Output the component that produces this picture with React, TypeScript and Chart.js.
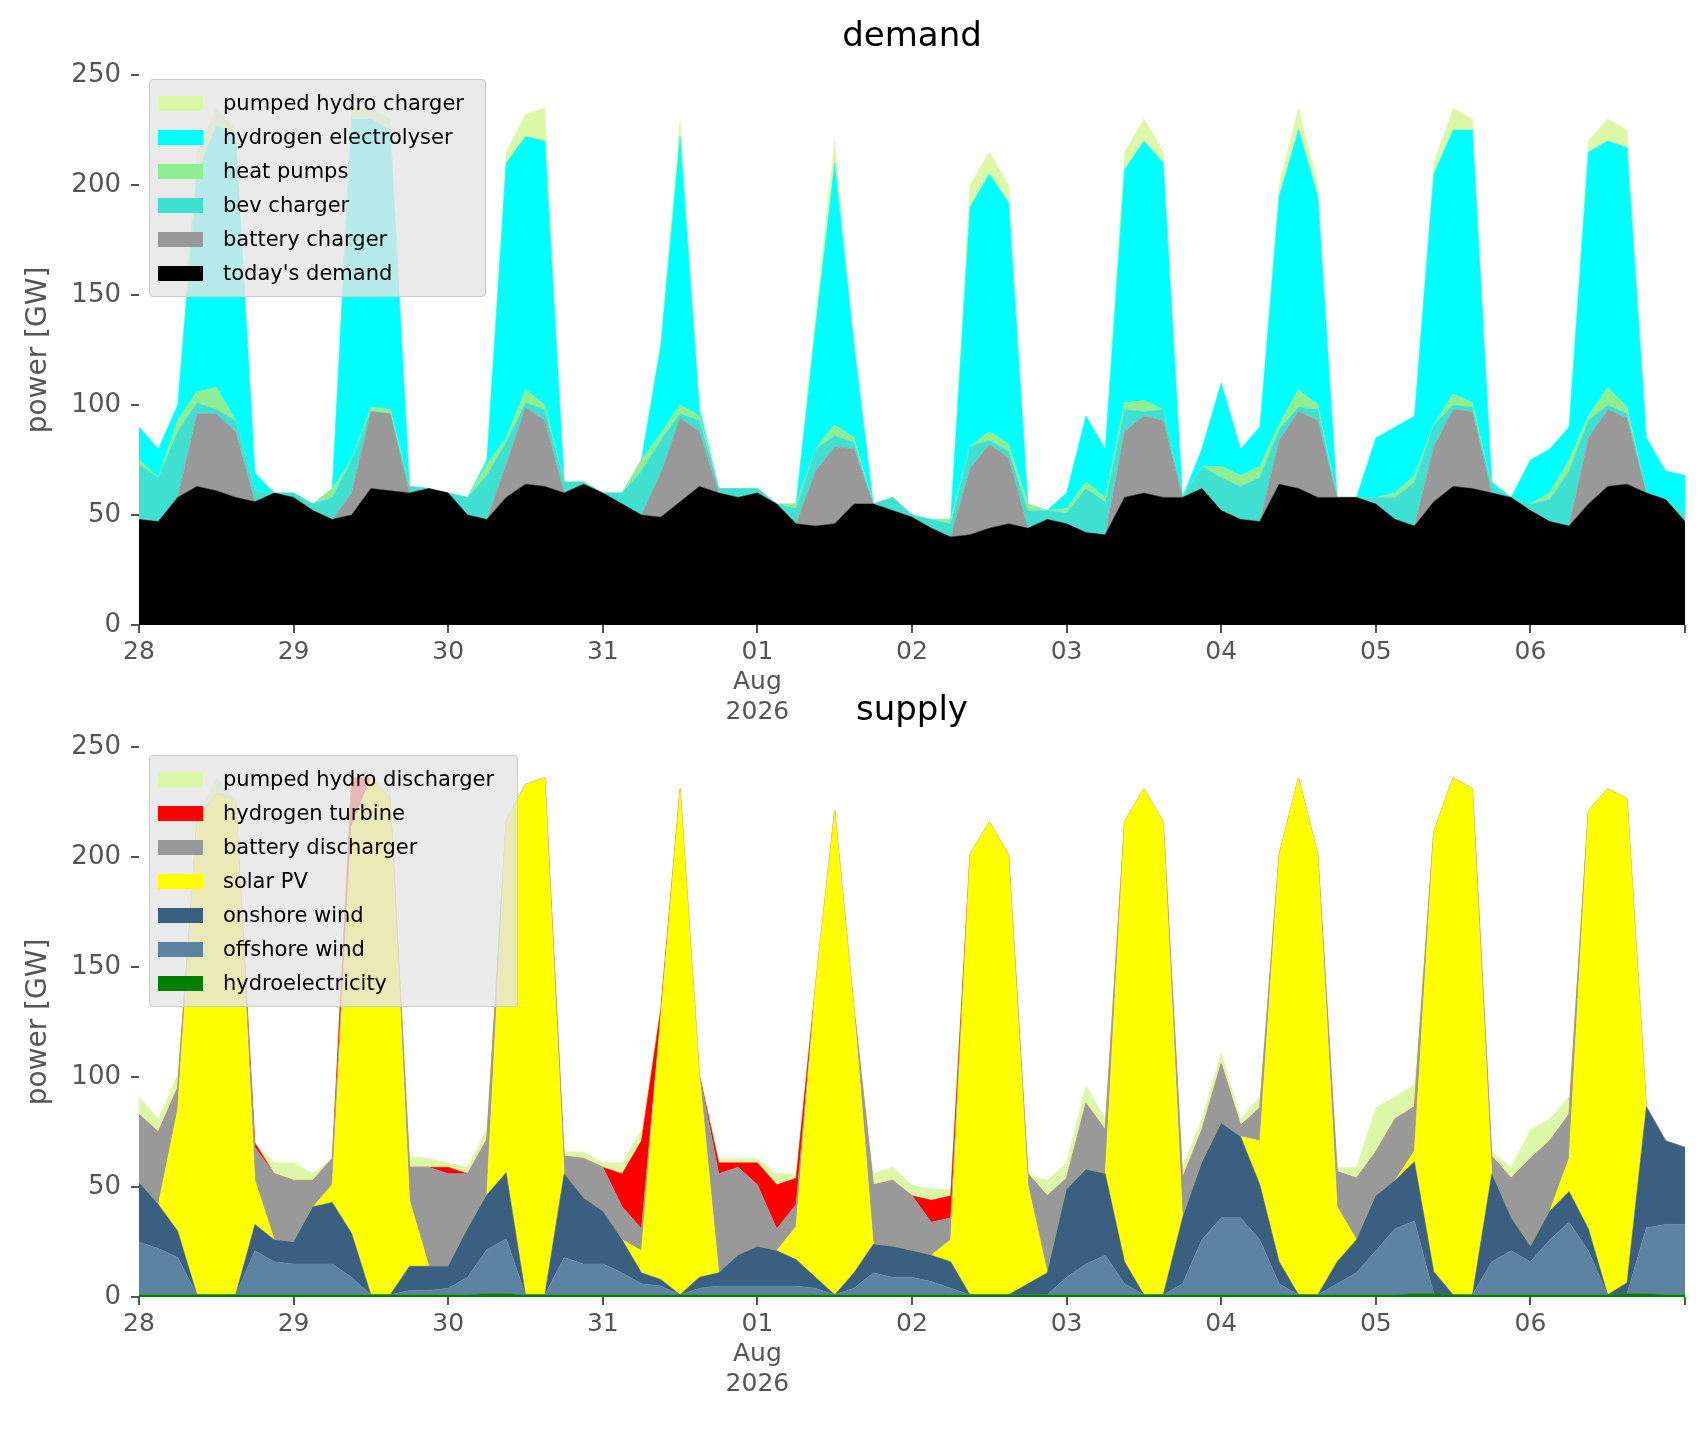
import React, { useEffect, useRef } from "react";
import { Chart, registerables } from "chart.js";
Chart.register(...registerables);

const STEP_HOURS = 3;
const DAY_LABELS = ["28", "29", "30", "31", "01", "02", "03", "04", "05", "06"];
const Y_TICKS = [0, 50, 100, 150, 200, 250];

// demand (GW), 3-hourly
const todaysDemand = [48,47,58,63,61,58,56,60, 58,52,48,50,62,61,60,62, 60,50,48,58,64,63,60,64, 60,55,50,49,56,63,60,58, 60,55,46,45,46,55,55,52, 49,44,40,41,44,46,44,48, 46,42,41,58,60,58,58,62, 52,48,47,64,62,58,58,58, 55,48,45,56,63,62,60,58, 52,47,45,55,63,64,60,57, 47];
const batteryCharger = [0,0,0,33,35,30,0,0, 0,0,0,10,35,35,0,0, 0,0,0,15,35,30,0,0, 0,0,0,20,38,25,0,0, 0,0,0,25,35,25,0,0, 0,0,0,30,38,30,0,0, 0,0,0,30,35,35,0,0, 0,0,0,20,35,35,0,0, 0,0,0,25,35,35,0,0, 0,0,0,30,35,30,0,0, 0];
const bevCharger = [25,20,30,5,2,5,5,0, 2,3,10,15,0,0,3,0, 0,8,20,10,2,5,5,1, 0,5,20,15,2,5,2,4, 2,0,7,10,5,3,0,6, 1,4,6,10,2,3,8,4, 5,20,15,10,2,5,0,10, 15,15,20,5,2,5,0,0, 3,10,20,10,2,2,3,0, 3,10,25,8,2,2,0,0, 3];
const heatPumps = [2,0,5,5,10,0,0,0, 0,0,4,0,2,2,0,0, 0,0,5,2,6,2,0,0, 0,0,5,3,4,2,0,0, 0,0,2,0,5,2,0,0, 0,0,2,0,4,3,3,0, 2,3,2,3,5,0,0,0, 5,5,5,2,8,2,0,0, 0,2,3,0,5,2,0,0, 0,3,5,2,8,3,0,0, 0];
const electrolyser = [15,13,7,99,119,130,8,0, 0,0,0,155,131,127,0,0, 0,0,2,125,115,120,0,0, 0,0,0,40,122,3,0,0, 0,0,0,55,119,42,0,0, 0,0,0,109,117,110,0,0, 7,30,22,106,118,112,0,8, 38,12,18,104,118,95,0,0, 27,30,27,114,120,124,2,0, 20,20,15,120,112,118,25,13, 18];
const pumpedCharger = [0,0,0,10,8,2,0,0, 0,0,0,5,5,5,0,0, 0,0,0,5,10,15,0,0, 0,0,0,3,8,2,0,0, 0,0,0,5,10,3,0,0, 0,0,0,10,10,8,0,0, 0,0,0,8,10,5,0,0, 0,0,0,5,10,5,0,0, 0,0,0,5,10,5,0,0, 0,0,0,5,10,8,0,0, 0];

// supply (GW), 3-hourly
const hydro = [1,1,1,1,1,1,1,1, 1,1,1,1,1,1,1,1, 1,1,1.5,1.5,1,1,1,1, 1,1,1,1,1,1,1,1, 1,1,1,1,1,1,1,1, 1,1,1,1,1,1,1,1, 1,1,1,1,1,1,1,1, 1,1,1,1,1,1,1,1, 1,1,1.5,1.5,1,1,1,1, 1,1,1,1,1,1.5,1.5,1, 1];
const offshoreWind = [24,21,17,0,0,0,20,15, 14,14,14,8,0,0,2,2, 3,8,20,25,0,0,17,14, 14,10,5,4,0,3,4,4, 4,4,4,3,0,3,10,8, 8,6,3,0,0,0,0,0, 8,14,18,5,0,0,5,25, 35,35,25,5,0,0,5,10, 20,30,33,0,0,0,15,20, 15,25,33,20,0,0,30,32, 32];
const onshoreWind = [27,20,12,0,0,0,12,10, 10,26,28,20,0,0,11,11, 10,22,25,30,0,0,38,30, 24,15,5,3,0,5,6,14, 18,16,12,5,0,7,13,14, 12,12,12,0,0,0,5,10, 40,43,37,10,0,0,30,35, 43,37,25,10,0,0,10,15, 25,22,27,10,0,0,40,15, 7,13,14,10,0,5,55,38, 35];
const solarPV = [0,0,55,215,228,225,20,0, 0,0,8,185,235,225,30,0, 0,0,0,160,232,235,0,0, 0,0,10,120,230,92,0,0, 0,0,15,132,220,120,0,0, 0,0,10,200,215,200,45,0, 0,0,0,200,230,215,0,0, 0,0,20,185,235,200,25,0, 0,0,5,200,235,230,0,0, 0,0,15,190,230,220,0,0, 0];
const batteryDischarger = [31,33,10,0,0,0,15,30, 28,12,12,0,0,0,15,45, 42,25,25,0,0,0,8,18, 20,15,10,0,0,0,45,40, 28,10,10,0,0,0,27,30, 25,15,10,0,0,0,5,35, 5,30,20,0,0,0,18,15, 27,5,15,0,0,0,16,28, 20,28,20,0,0,0,8,18, 40,32,20,0,0,0,0,0, 0];
const hydrogenTurbine = [0,0,0,0,0,0,2,0, 0,0,0,22,0,0,0,0, 3,0,0,0,0,0,0,0, 0,15,40,3,0,0,5,2, 10,20,12,0,0,0,0,0, 0,10,10,0,0,0,0,0, 0,0,0,0,0,0,0,0, 0,0,0,0,0,0,0,0, 0,0,0,0,0,0,0,0, 0,0,0,0,0,0,0,0, 0];
const pumpedDischarger = [8,6,6,0,7,0,0,5, 8,3,0,0,0,5,5,4, 2,3,5,0,0,0,2,3, 2,5,5,0,0,0,2,2, 2,5,2,0,0,0,5,6, 5,5,3,0,0,0,0,7, 7,8,5,0,0,0,5,5, 5,3,5,0,0,0,2,5, 20,10,10,0,0,0,2,5, 13,10,8,0,0,0,0,0, 0];

const demandSeries = [
  { label: "today's demand", data: todaysDemand, color: "#000000" },
  { label: "battery charger", data: batteryCharger, color: "#999999" },
  { label: "bev charger", data: bevCharger, color: "#40e0d0" },
  { label: "heat pumps", data: heatPumps, color: "#90ee90" },
  { label: "hydrogen electrolyser", data: electrolyser, color: "#00ffff" },
  { label: "pumped hydro charger", data: pumpedCharger, color: "#dcf7a6" },
];
const supplySeries = [
  { label: "hydroelectricity", data: hydro, color: "#008000" },
  { label: "offshore wind", data: offshoreWind, color: "#5d83a3" },
  { label: "onshore wind", data: onshoreWind, color: "#3a5f80" },
  { label: "solar PV", data: solarPV, color: "#ffff00" },
  { label: "battery discharger", data: batteryDischarger, color: "#999999" },
  { label: "hydrogen turbine", data: hydrogenTurbine, color: "#ff0000" },
  { label: "pumped hydro discharger", data: pumpedDischarger, color: "#dcf7a6" },
];

const FONT = "DejaVu Sans";

function StackChart({ series }: { series: { label: string; data: number[]; color: string }[] }) {
  const ref = useRef<HTMLCanvasElement>(null);
  useEffect(() => {
    const chart = new Chart(ref.current!, {
      type: "line",
      data: {
        datasets: series.map((s, k) => ({
          label: s.label,
          data: s.data.map((v, i) => ({ x: i * STEP_HOURS, y: v })),
          backgroundColor: s.color,
          borderColor: s.color,
          borderWidth: 0.5,
          pointRadius: 0,
          tension: 0,
          fill: k === 0 ? "origin" : "-1",
        })),
      },
      options: {
        animation: false,
        responsive: false,
        maintainAspectRatio: false,
        layout: { padding: { left: 0, right: 21, top: 75, bottom: 0 } },
        plugins: { legend: { display: false }, tooltip: { enabled: false }, title: { display: false } },
        scales: {
          x: {
            type: "linear",
            min: 0,
            max: 240,
            afterFit: (s: any) => { s.height = 135; },
            afterBuildTicks: (s: any) => {
              s.ticks = Array.from({ length: 11 }, (_, i) => ({ value: i * 24 }));
            },
            ticks: {
              color: "#555555",
              font: { family: FONT, size: 25 },
              maxRotation: 0,
              autoSkip: false,
              padding: 4,
              callback: (v: any) => {
                const i = Math.round(Number(v) / 24);
                if (i >= DAY_LABELS.length) return "";
                return i === 4 ? [DAY_LABELS[i], "Aug", "2026"] : DAY_LABELS[i];
              },
            },
            grid: { display: true, drawOnChartArea: false, tickLength: 8, color: "#555555", lineWidth: 2 },
            border: { display: false },
          },
          y: {
            stacked: true,
            min: 0,
            max: 250,
            afterFit: (s: any) => { s.width = 139; },
            afterBuildTicks: (s: any) => { s.ticks = Y_TICKS.map((v) => ({ value: v })); },
            ticks: { color: "#555555", font: { family: FONT, size: 26 }, padding: 10 },
            title: { display: true, text: "power [GW]", color: "#555555", font: { family: FONT, size: 28 }, padding: 22 },
            grid: { display: true, drawOnChartArea: false, tickLength: 8, color: "#555555", lineWidth: 2 },
            border: { display: false },
          },
        },
      },
    });
    return () => chart.destroy();
  }, []);
  return <canvas ref={ref} width={1706} height={760} style={{ width: 1706, height: 760, display: "block" }} />;
}

function Legend({ items, left, top, width }: { items: { label: string; color: string }[]; left: number; top: number; width: number }) {
  return (
    <div style={{ position: "absolute", left, top, width, padding: "6px 0 6px 0", background: "rgba(229,229,229,0.8)", border: "1px solid #cccccc", borderRadius: 4, fontFamily: FONT, fontSize: 21, color: "#000" }}>
      {items.map((it) => (
        <div key={it.label} style={{ display: "flex", alignItems: "center", height: 34 }}>
          <span style={{ display: "inline-block", width: 45, height: 15, marginLeft: 8, marginRight: 20, background: it.color }} />
          <span>{it.label}</span>
        </div>
      ))}
    </div>
  );
}

export default function App() {
  const title = { position: "absolute" as const, fontFamily: FONT, fontSize: 34, textAlign: "center" as const, color: "#000" };
  return (
    <div style={{ position: "absolute", left: 0, top: 0, width: 1706, height: 1431, background: "#fff", overflow: "hidden" }}>
      <div style={{ position: "absolute", left: 0, top: 0 }}><StackChart series={demandSeries} /></div>
      <div style={{ position: "absolute", left: 0, top: 672 }}><StackChart series={supplySeries} /></div>
      <div style={{ ...title, left: 139, width: 1546, top: 14 }}>demand</div>
      <div style={{ ...title, left: 139, width: 1546, top: 688 }}>supply</div>
      <Legend items={[...demandSeries].reverse()} left={149} top={79} width={335} />
      <Legend items={[...supplySeries].reverse()} left={149} top={755} width={367} />
    </div>
  );
}
